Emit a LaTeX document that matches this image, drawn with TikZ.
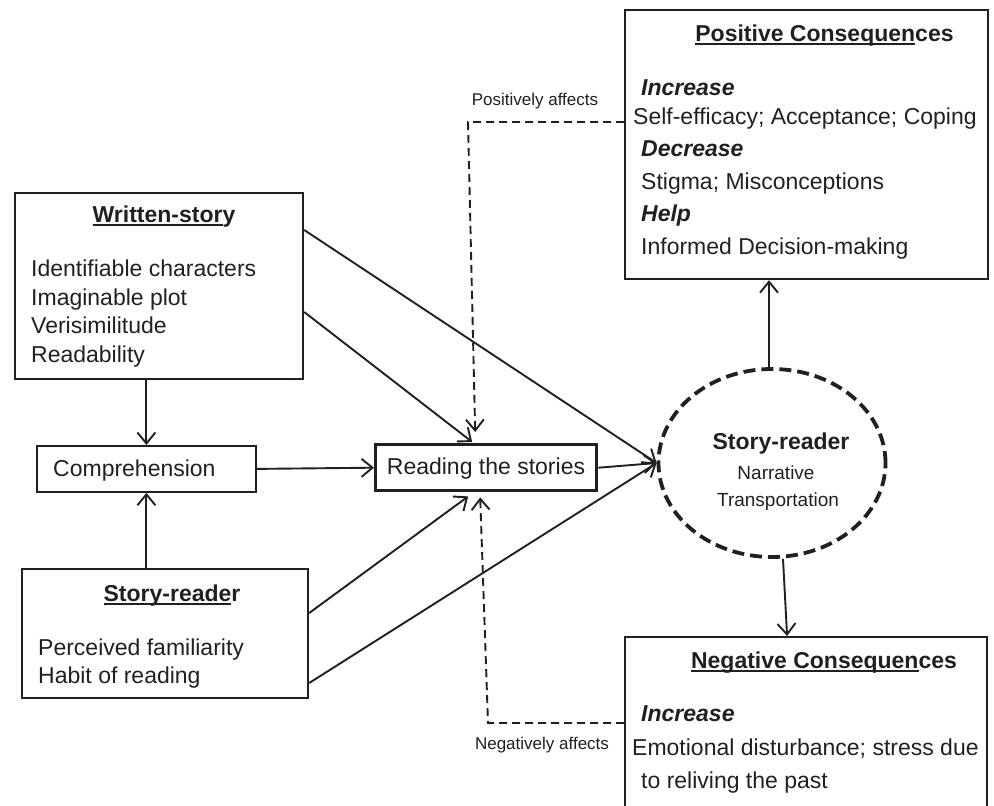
\documentclass[tikz,border=0pt]{standalone}
\usepackage{fontspec}
\setmainfont{Liberation Sans}
\usetikzlibrary{arrows.meta,calc,shapes.geometric}
\definecolor{ink}{HTML}{231F20}
\newcommand\myul[1]{\setbox0\hbox{#1}\rlap{\rule[-3.5pt]{\wd0}{1.9pt}}\box0}
\begin{document}
\begin{tikzpicture}[x=1pt,y=-1pt,
  box/.style={draw=ink, line width=2.2pt, inner sep=0pt, anchor=north west},
  txt/.style={anchor=base west, inner sep=0pt, text=ink, font=\fontsize{23}{27}\selectfont},
  ttl/.style={anchor=base, inner sep=0pt, text=ink, font=\fontsize{23}{27}\selectfont\bfseries},
  sub/.style={anchor=base, inner sep=0pt, text=ink, font=\fontsize{19}{23}\selectfont},
  lbl/.style={anchor=center, inner sep=0pt, text=ink, font=\fontsize{17}{20}\selectfont},
  arr/.style={draw=ink, line width=1.9pt, -{Straight Barb[length=11pt,width=18pt,line width=1.9pt]}},
  darr/.style={arr, dash pattern=on 8pt off 5pt}]
\useasboundingbox (0,0) rectangle (994,806);
\clip (0,0) rectangle (994,806);

% boxes
\node[box, minimum width=363, minimum height=269] (pos) at (624,9) {};
\node[box, minimum width=362, minimum height=220] (neg) at (624,636) {};
\node[box, minimum width=288, minimum height=186] (ws) at (14,192) {};
\node[box, minimum width=219, minimum height=46, line width=1.8pt] (cmp) at (36,445) {};
\node[box, minimum width=221, minimum height=46, line width=3.4pt] (rd) at (374,443) {};
\node[box, minimum width=286, minimum height=129] (sr) at (21,568) {};
\node[draw=ink, ellipse, line width=3.8pt, dash pattern=on 12pt off 6pt, inner sep=0pt,
      minimum width=227, minimum height=188] (ell) at (772,463) {};

% positive text
\node[ttl] (posT) at (824.5,41) {\myul{Positive Consequen}ces};
\node[txt, font=\fontsize{23}{27}\selectfont\bfseries\itshape] (posI) at (641,95) {Increase};
\node[txt] (posI2) at (633,124) {Self-efficacy; Acceptance; Coping};
\node[txt, font=\fontsize{23}{27}\selectfont\bfseries\itshape] (posD) at (641,156) {Decrease};
\node[txt] (posD2) at (641,189) {Stigma; Misconceptions};
\node[txt, font=\fontsize{23}{27}\selectfont\bfseries\itshape] (posH) at (641,221) {Help};
\node[txt] (posH2) at (641,254) {Informed Decision-making};

% negative text
\node[ttl] (negT) at (824,668) {\myul{Negative Consequen}ces};
\node[txt, font=\fontsize{23}{27}\selectfont\bfseries\itshape] (negI) at (641,721) {Increase};
\node[txt] (negI2) at (632,755) {Emotional disturbance; stress due};
\node[txt] (negI3) at (641,788) {to reliving the past};

% written story
\node[ttl] (wsT) at (164,222) {\myul{Written-stor}y};
\node[txt] (ws1) at (31,276) {Identifiable characters};
\node[txt] (ws2) at (31,305) {Imaginable plot};
\node[txt] (ws3) at (31,333) {Verisimilitude};
\node[txt] (ws4) at (31,362) {Readability};

% comprehension, reading
\node[txt] (cmpT) at (53,476) {Comprehension};
\node[ttl, font=\fontsize{23}{27}\selectfont] (rdT) at (486,474) {Reading the stories};

% story reader box
\node[ttl] (srT) at (172,601) {\myul{Story-reade}r};
\node[txt] (sr1) at (38,655) {Perceived familiarity};
\node[txt] (sr2) at (38,683) {Habit of reading};

% ellipse text
\node[ttl] (ellT) at (781,449) {Story-reader};
\node[sub] (ell1) at (776,479) {Narrative};
\node[sub] (ell2) at (778,506) {Transportation};

% labels
\node[lbl] (plbl) at (535,101) {Positively affects};
\node[lbl] (nlbl) at (542,745) {Negatively affects};

% connectors
\draw[arr] (ws.south -| cmp.north) -- (cmp.north);
\draw[arr] (sr.north -| cmp.south) -- (cmp.south);
\draw[arr] (cmp.east) -- (rd.west);
\draw[arr] (rd.east) -- (ell.west);
\draw[arr] ($(ws.north east)+(0,38)$) -- (ell.west);
\draw[arr] ($(ws.north east)+(0,120)$) -- ($(rd.north)+(-14,-1)$);
\draw[arr] ($(sr.north east)+(0,45)$) -- ($(rd.south)+(-18,4)$);
\draw[arr] ($(sr.north east)+(0,115)$) -- (ell.west);
\coordinate (eN) at ($(ell.north)+(-3,0)$);
\draw[arr] (eN) -- (eN |- pos.south);
\draw[arr] ($(ell.south)+(11,0)$) -- ([xshift=-19pt]neg.north);
\draw[darr] ($(pos.north west)+(0,113)$) -- ++(-156,0) -- ($(rd.north)+(-11,-11)$);
\draw[darr] ($(neg.north west)+(0,87)$) -- ++(-136,0) -- ($(rd.south)+(-6,5)$);
\end{tikzpicture}
\end{document}
